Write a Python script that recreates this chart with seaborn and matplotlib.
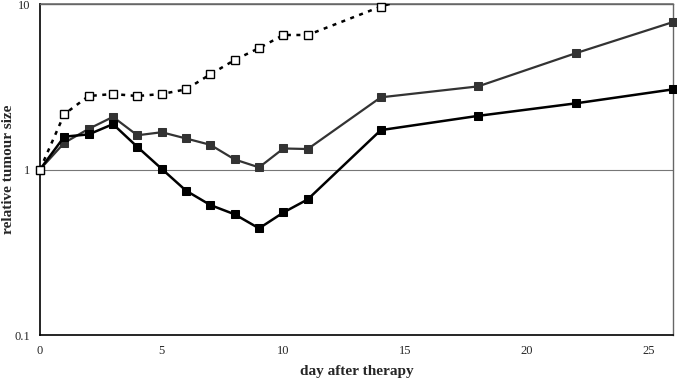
import seaborn as sns
import matplotlib.pyplot as plt
import pandas as pd

# days after therapy for each group
days = [0, 1, 2, 3, 4, 5, 6, 7, 8, 9, 10, 11, 14, 18, 22, 26]
control_days = [0, 1, 2, 3, 4, 5, 6, 7, 8, 9, 10, 11, 14, 18]

# relative tumour size
control = [1.0, 2.16, 2.78, 2.86, 2.78, 2.86, 3.05, 3.76, 4.59, 5.42, 6.5, 6.5, 9.65, 14.4]
grey_group = [1.0, 1.45, 1.76, 2.08, 1.61, 1.68, 1.54, 1.41, 1.15, 1.03, 1.34, 1.33, 2.73, 3.18, 5.04, 7.78]
black_group = [1.0, 1.58, 1.63, 1.88, 1.37, 1.01, 0.745, 0.61, 0.536, 0.441, 0.55, 0.66, 1.73, 2.11, 2.51, 3.05]

sns.set_style("white")
plt.rcParams['font.family'] = ['Liberation Serif', 'DejaVu Serif']

df_grey = pd.DataFrame({'day': days, 'size': grey_group})
df_black = pd.DataFrame({'day': days, 'size': black_group})
df_ctrl = pd.DataFrame({'day': control_days, 'size': control})

fig = plt.figure(figsize=(6.77, 3.8), dpi=100)
ax = fig.add_axes([0.059, 0.1184, 0.935, 0.871])

ax.axhline(1, color='#777777', lw=0.8, zorder=1)
ax.axhline(10, color='#777777', lw=1.2, zorder=1, clip_on=False)

sns.lineplot(data=df_grey, x='day', y='size', ax=ax, color='#333333', lw=1.6,
             marker='s', markersize=5.8, markeredgecolor='#333333', clip_on=False, zorder=3)
sns.lineplot(data=df_black, x='day', y='size', ax=ax, color='black', lw=1.8,
             marker='s', markersize=5.8, markeredgecolor='black', clip_on=False, zorder=4)

# dashed control line runs off the top of the axis
sns.lineplot(data=df_ctrl, x='day', y='size', ax=ax, color='black', lw=1.8,
             linestyle=(0, (1.6, 2.2)), zorder=5)
inside = df_ctrl[df_ctrl['size'] <= 10]
ax.plot(inside['day'], inside['size'], ls='none', marker='s', markersize=6,
        markerfacecolor='white', markeredgecolor='black', markeredgewidth=1.0,
        clip_on=False, zorder=6)

ax.set_yscale('log')
ax.set_ylim(0.1, 10)
ax.set_xlim(0, 26)
ax.set_xticks([0, 5, 10, 15, 20, 25])
ax.set_yticks([0.1, 1, 10])
ax.set_yticklabels(['0.1', '1', '10'])
ax.minorticks_off()
ax.tick_params(axis='both', which='major', direction='out', length=4, width=1,
               labelsize=9, color='black', pad=3)
ax.tick_params(axis='x', pad=3)

for side in ['left', 'bottom']:
    ax.spines[side].set_color('black')
    ax.spines[side].set_linewidth(1.2)
for side in ['top', 'right']:
    ax.spines[side].set_color('#666666')
    ax.spines[side].set_linewidth(1.0)

ax.set_xlabel('day after therapy', fontsize=11, fontweight='bold')
ax.set_ylabel('relative tumour size', fontsize=11, fontweight='bold')
ax.xaxis.set_label_coords(0.5, -0.11)
ax.yaxis.set_label_coords(-0.049, 0.5)
ax.xaxis.label.set_va('center')
ax.yaxis.label.set_va('center')

fig.savefig('out.png', dpi=100)
